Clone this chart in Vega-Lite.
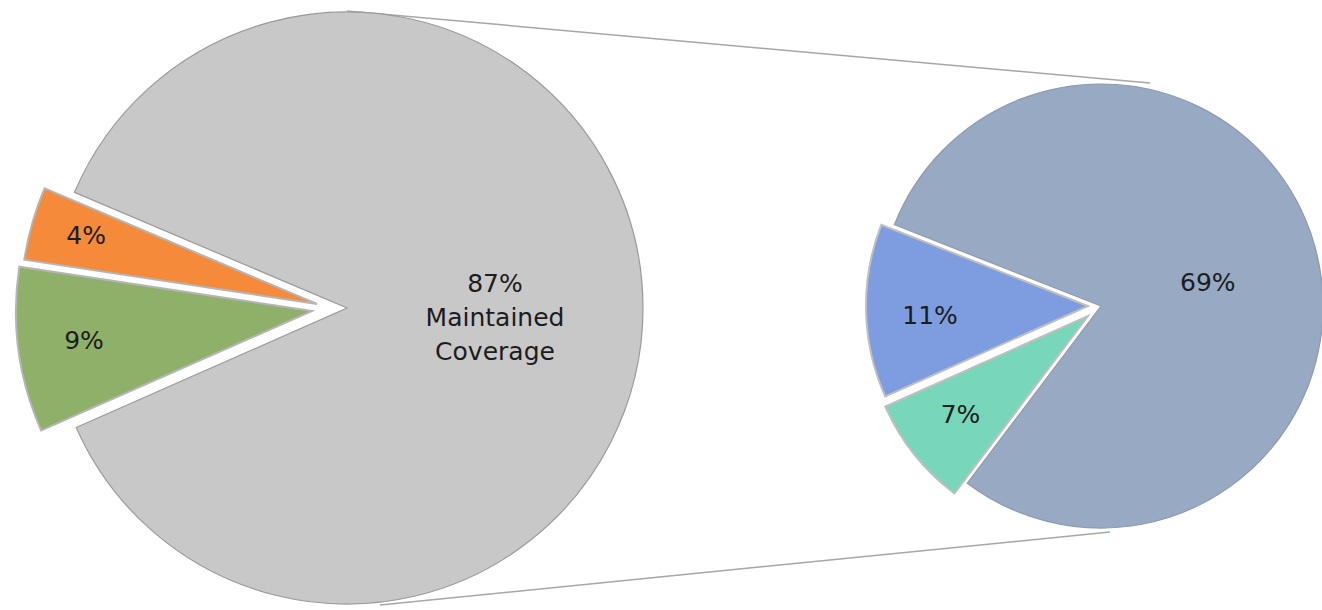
{
  "$schema": "https://vega.github.io/schema/vega-lite/v6.json",
  "width": 1322,
  "height": 610,
  "padding": 0,
  "autosize": "none",
  "background": "white",
  "config": {"view": {"stroke": null}},
  "datasets": {
    "slices": [
      {"pie": "Overall", "slice": "Segment 9%", "value": 9, "rank": 1, "label": "9%"},
      {"pie": "Overall", "slice": "Segment 4%", "value": 4, "rank": 2, "label": "4%"},
      {"pie": "Overall", "slice": "Maintained Coverage", "value": 87, "rank": 3, "label": "87%\nMaintained\nCoverage"},
      {"pie": "Maintained", "slice": "Part 7%", "value": 7, "rank": 1, "label": "7%"},
      {"pie": "Maintained", "slice": "Part 11%", "value": 11, "rank": 2, "label": "11%"},
      {"pie": "Maintained", "slice": "Part 69%", "value": 69, "rank": 3, "label": "69%"}
    ],
    "connectors": [
      {"edge": "top", "xa": 347, "ya": 11, "xb": 1150, "yb": 83},
      {"edge": "bottom", "xa": 380, "ya": 605, "xb": 1110, "yb": 532}
    ]
  },
  "layer": [
    {
      "data": {"name": "connectors"},
      "mark": {"type": "rule", "color": "#a6a6a6", "strokeWidth": 1.5},
      "encoding": {
        "x": {"field": "xa", "type": "quantitative", "scale": {"domain": [0, 1322], "range": [0, 1322]}, "axis": null},
        "y": {"field": "ya", "type": "quantitative", "scale": {"domain": [0, 610], "range": [0, 610]}, "axis": null},
        "x2": {"field": "xb"},
        "y2": {"field": "yb"}
      }
    },
    {
      "data": {"name": "slices"},
      "transform": [
        {"filter": "datum.pie === 'Overall'"},
        {"stack": "value", "groupby": [], "sort": [{"field": "rank", "order": "ascending"}], "as": ["v0", "v1"]},
        {"filter": "datum.slice === 'Maintained Coverage'"}
      ],
      "mark": {"type": "arc", "outerRadius": 296, "stroke": "#9a9a9a", "strokeWidth": 1.2},
      "encoding": {
        "x": {"field": "pie", "type": "nominal", "scale": {"type": "point", "domain": ["Overall", "Maintained"], "range": [347, 1101], "padding": 0}, "axis": null},
        "y": {"field": "pie", "type": "nominal", "scale": {"type": "point", "domain": ["Overall", "Maintained"], "range": [308, 306], "padding": 0}, "axis": null},
        "theta": {"field": "v0", "type": "quantitative", "scale": {"domain": [0, 100], "range": [4.297, 10.580]}},
        "theta2": {"field": "v1"},
        "color": {"field": "slice", "type": "nominal", "legend": null, "scale": {"domain": ["Segment 9%", "Segment 4%", "Maintained Coverage", "Part 7%", "Part 11%", "Part 69%"], "range": ["#8fb068", "#f58a3a", "#c8c8c8", "#78d6bb", "#7d9de0", "#98a9c3"]}}
      }
    },
    {
      "data": {"name": "slices"},
      "transform": [
        {"filter": "datum.pie === 'Overall'"},
        {"stack": "value", "groupby": [], "sort": [{"field": "rank", "order": "ascending"}], "as": ["v0", "v1"]},
        {"filter": "datum.slice === 'Segment 4%'"}
      ],
      "mark": {"type": "arc", "outerRadius": 296, "stroke": "#b5b5b5", "strokeWidth": 2, "xOffset": -30, "yOffset": -4},
      "encoding": {
        "x": {"field": "pie", "type": "nominal", "scale": {"type": "point", "domain": ["Overall", "Maintained"], "range": [347, 1101], "padding": 0}, "axis": null},
        "y": {"field": "pie", "type": "nominal", "scale": {"type": "point", "domain": ["Overall", "Maintained"], "range": [308, 306], "padding": 0}, "axis": null},
        "theta": {"field": "v0", "type": "quantitative", "scale": {"domain": [0, 100], "range": [4.297, 10.580]}},
        "theta2": {"field": "v1"},
        "color": {"field": "slice", "type": "nominal", "legend": null}
      }
    },
    {
      "data": {"name": "slices"},
      "transform": [
        {"filter": "datum.pie === 'Overall'"},
        {"stack": "value", "groupby": [], "sort": [{"field": "rank", "order": "ascending"}], "as": ["v0", "v1"]},
        {"filter": "datum.slice === 'Segment 9%'"}
      ],
      "mark": {"type": "arc", "outerRadius": 296, "stroke": "#b5b5b5", "strokeWidth": 2, "xOffset": -35, "yOffset": 3},
      "encoding": {
        "x": {"field": "pie", "type": "nominal", "scale": {"type": "point", "domain": ["Overall", "Maintained"], "range": [347, 1101], "padding": 0}, "axis": null},
        "y": {"field": "pie", "type": "nominal", "scale": {"type": "point", "domain": ["Overall", "Maintained"], "range": [308, 306], "padding": 0}, "axis": null},
        "theta": {"field": "v0", "type": "quantitative", "scale": {"domain": [0, 100], "range": [4.297, 10.580]}},
        "theta2": {"field": "v1"},
        "color": {"field": "slice", "type": "nominal", "legend": null}
      }
    },
    {
      "data": {"name": "slices"},
      "transform": [
        {"filter": "datum.pie === 'Maintained'"},
        {"stack": "value", "groupby": [], "sort": [{"field": "rank", "order": "ascending"}], "as": ["v0", "v1"]},
        {"filter": "datum.slice === 'Part 69%'"}
      ],
      "mark": {"type": "arc", "outerRadius": 222, "stroke": "#8e9aae", "strokeWidth": 1.2},
      "encoding": {
        "x": {"field": "pie", "type": "nominal", "scale": {"type": "point", "domain": ["Overall", "Maintained"], "range": [347, 1101], "padding": 0}, "axis": null},
        "y": {"field": "pie", "type": "nominal", "scale": {"type": "point", "domain": ["Overall", "Maintained"], "range": [308, 306], "padding": 0}, "axis": null},
        "theta": {"field": "v0", "type": "quantitative", "scale": {"domain": [0, 87], "range": [3.787, 10.071]}},
        "theta2": {"field": "v1"},
        "color": {"field": "slice", "type": "nominal", "legend": null}
      }
    },
    {
      "data": {"name": "slices"},
      "transform": [
        {"filter": "datum.pie === 'Maintained'"},
        {"stack": "value", "groupby": [], "sort": [{"field": "rank", "order": "ascending"}], "as": ["v0", "v1"]},
        {"filter": "datum.slice === 'Part 11%'"}
      ],
      "mark": {"type": "arc", "outerRadius": 222, "stroke": "#bfbfbf", "strokeWidth": 2, "xOffset": -13, "yOffset": 0},
      "encoding": {
        "x": {"field": "pie", "type": "nominal", "scale": {"type": "point", "domain": ["Overall", "Maintained"], "range": [347, 1101], "padding": 0}, "axis": null},
        "y": {"field": "pie", "type": "nominal", "scale": {"type": "point", "domain": ["Overall", "Maintained"], "range": [308, 306], "padding": 0}, "axis": null},
        "theta": {"field": "v0", "type": "quantitative", "scale": {"domain": [0, 87], "range": [3.787, 10.071]}},
        "theta2": {"field": "v1"},
        "color": {"field": "slice", "type": "nominal", "legend": null}
      }
    },
    {
      "data": {"name": "slices"},
      "transform": [
        {"filter": "datum.pie === 'Maintained'"},
        {"stack": "value", "groupby": [], "sort": [{"field": "rank", "order": "ascending"}], "as": ["v0", "v1"]},
        {"filter": "datum.slice === 'Part 7%'"}
      ],
      "mark": {"type": "arc", "outerRadius": 222, "stroke": "#bfbfbf", "strokeWidth": 2, "xOffset": -13, "yOffset": 10},
      "encoding": {
        "x": {"field": "pie", "type": "nominal", "scale": {"type": "point", "domain": ["Overall", "Maintained"], "range": [347, 1101], "padding": 0}, "axis": null},
        "y": {"field": "pie", "type": "nominal", "scale": {"type": "point", "domain": ["Overall", "Maintained"], "range": [308, 306], "padding": 0}, "axis": null},
        "theta": {"field": "v0", "type": "quantitative", "scale": {"domain": [0, 87], "range": [3.787, 10.071]}},
        "theta2": {"field": "v1"},
        "color": {"field": "slice", "type": "nominal", "legend": null}
      }
    },
    {
      "data": {"name": "slices"},
      "transform": [{"filter": "datum.pie === 'Overall'"}],
      "mark": {"type": "text", "radius": 148, "dy": -23, "font": "DejaVu Sans", "fontSize": 25, "lineBreak": "\n", "lineHeight": 34, "color": "#1c1c1c"},
      "encoding": {
        "x": {"field": "pie", "type": "nominal", "scale": {"type": "point", "domain": ["Overall", "Maintained"], "range": [347, 1101], "padding": 0}, "axis": null},
        "y": {"field": "pie", "type": "nominal", "scale": {"type": "point", "domain": ["Overall", "Maintained"], "range": [308, 306], "padding": 0}, "axis": null},
        "theta": {"field": "value", "type": "quantitative", "stack": true, "scale": {"domain": [0, 100], "range": [4.297, 10.580]}},
        "order": {"field": "rank", "type": "quantitative"},
        "text": {"condition": {"test": "datum.slice === 'Maintained Coverage'", "field": "label", "type": "nominal"}, "value": ""}
      }
    },
    {
      "data": {"name": "slices"},
      "transform": [{"filter": "datum.pie === 'Overall'"}],
      "mark": {"type": "text", "radius": 240, "xOffset": -30, "yOffset": -4, "dy": -3, "font": "DejaVu Sans", "fontSize": 25, "color": "#1c1c1c"},
      "encoding": {
        "x": {"field": "pie", "type": "nominal", "scale": {"type": "point", "domain": ["Overall", "Maintained"], "range": [347, 1101], "padding": 0}, "axis": null},
        "y": {"field": "pie", "type": "nominal", "scale": {"type": "point", "domain": ["Overall", "Maintained"], "range": [308, 306], "padding": 0}, "axis": null},
        "theta": {"field": "value", "type": "quantitative", "stack": true, "scale": {"domain": [0, 100], "range": [4.297, 10.580]}},
        "order": {"field": "rank", "type": "quantitative"},
        "text": {"condition": {"test": "datum.slice === 'Segment 4%'", "field": "label", "type": "nominal"}, "value": ""}
      }
    },
    {
      "data": {"name": "slices"},
      "transform": [{"filter": "datum.pie === 'Overall'"}],
      "mark": {"type": "text", "radius": 230, "xOffset": -35, "yOffset": 3, "font": "DejaVu Sans", "fontSize": 25, "color": "#1c1c1c"},
      "encoding": {
        "x": {"field": "pie", "type": "nominal", "scale": {"type": "point", "domain": ["Overall", "Maintained"], "range": [347, 1101], "padding": 0}, "axis": null},
        "y": {"field": "pie", "type": "nominal", "scale": {"type": "point", "domain": ["Overall", "Maintained"], "range": [308, 306], "padding": 0}, "axis": null},
        "theta": {"field": "value", "type": "quantitative", "stack": true, "scale": {"domain": [0, 100], "range": [4.297, 10.580]}},
        "order": {"field": "rank", "type": "quantitative"},
        "text": {"condition": {"test": "datum.slice === 'Segment 9%'", "field": "label", "type": "nominal"}, "value": ""}
      }
    },
    {
      "data": {"name": "slices"},
      "transform": [{"filter": "datum.pie === 'Maintained'"}],
      "mark": {"type": "text", "radius": 111, "dy": 7, "font": "DejaVu Sans", "fontSize": 25, "color": "#1c1c1c"},
      "encoding": {
        "x": {"field": "pie", "type": "nominal", "scale": {"type": "point", "domain": ["Overall", "Maintained"], "range": [347, 1101], "padding": 0}, "axis": null},
        "y": {"field": "pie", "type": "nominal", "scale": {"type": "point", "domain": ["Overall", "Maintained"], "range": [308, 306], "padding": 0}, "axis": null},
        "theta": {"field": "value", "type": "quantitative", "stack": true, "scale": {"domain": [0, 87], "range": [3.787, 10.071]}},
        "order": {"field": "rank", "type": "quantitative"},
        "text": {"condition": {"test": "datum.slice === 'Part 69%'", "field": "label", "type": "nominal"}, "value": ""}
      }
    },
    {
      "data": {"name": "slices"},
      "transform": [{"filter": "datum.pie === 'Maintained'"}],
      "mark": {"type": "text", "radius": 158, "xOffset": -13, "dy": 6, "font": "DejaVu Sans", "fontSize": 25, "color": "#1c1c1c"},
      "encoding": {
        "x": {"field": "pie", "type": "nominal", "scale": {"type": "point", "domain": ["Overall", "Maintained"], "range": [347, 1101], "padding": 0}, "axis": null},
        "y": {"field": "pie", "type": "nominal", "scale": {"type": "point", "domain": ["Overall", "Maintained"], "range": [308, 306], "padding": 0}, "axis": null},
        "theta": {"field": "value", "type": "quantitative", "stack": true, "scale": {"domain": [0, 87], "range": [3.787, 10.071]}},
        "order": {"field": "rank", "type": "quantitative"},
        "text": {"condition": {"test": "datum.slice === 'Part 11%'", "field": "label", "type": "nominal"}, "value": ""}
      }
    },
    {
      "data": {"name": "slices"},
      "transform": [{"filter": "datum.pie === 'Maintained'"}],
      "mark": {"type": "text", "radius": 163, "xOffset": -13, "yOffset": 10, "dy": -3, "font": "DejaVu Sans", "fontSize": 25, "color": "#1c1c1c"},
      "encoding": {
        "x": {"field": "pie", "type": "nominal", "scale": {"type": "point", "domain": ["Overall", "Maintained"], "range": [347, 1101], "padding": 0}, "axis": null},
        "y": {"field": "pie", "type": "nominal", "scale": {"type": "point", "domain": ["Overall", "Maintained"], "range": [308, 306], "padding": 0}, "axis": null},
        "theta": {"field": "value", "type": "quantitative", "stack": true, "scale": {"domain": [0, 87], "range": [3.787, 10.071]}},
        "order": {"field": "rank", "type": "quantitative"},
        "text": {"condition": {"test": "datum.slice === 'Part 7%'", "field": "label", "type": "nominal"}, "value": ""}
      }
    }
  ],
  "resolve": {"scale": {"theta": "independent", "x": "independent", "y": "independent"}}
}
